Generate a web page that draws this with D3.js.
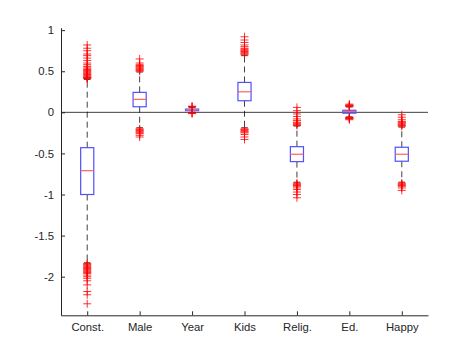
<!DOCTYPE html>
<html>
<head>
<meta charset="utf-8">
<script src="https://cdn.jsdelivr.net/npm/d3@7"></script>
<style>
  body { margin: 0; background: #fff; }
  text { font-family: "Liberation Sans", Arial, sans-serif; }
</style>
</head>
<body>
<script>
var categories = ["Const.", "Male", "Year", "Kids", "Relig.", "Ed.", "Happy"];

// box statistics
var q1 =        [-1.00, 0.068, 0.020, 0.141, -0.600, -0.010, -0.595];
var medians =   [-0.71, 0.158, 0.030, 0.250, -0.510,  0.010, -0.510];
var q3 =        [-0.43, 0.243, 0.040, 0.364, -0.418,  0.025, -0.425];
var whiskerLo = [-1.83, -0.187, 0.000, -0.187, -0.850, -0.055, -0.850];
var whiskerHi = [0.40, 0.49, 0.060, 0.69, -0.167, 0.065, -0.180];

var outliers = [
  [0.82, 0.78, 0.75, 0.71, 0.69, 0.66, 0.63, 0.60, 0.58, 0.56, 0.55, 0.53, 0.52, 0.51, 0.50, 0.49, 0.48, 0.47, 0.46, 0.45, 0.44, 0.43, 0.425, 0.42, 0.415, 0.41,
   -1.84, -1.85, -1.86, -1.87, -1.88, -1.89, -1.90, -1.91, -1.92, -1.93, -1.94, -1.95, -1.96, -1.98, -2.00, -2.02, -2.05, -2.10, -2.18, -2.22, -2.33],
  [0.65, 0.60, 0.58, 0.57, 0.56, 0.55, 0.54, 0.53, 0.52, 0.51, 0.50,
   -0.20, -0.21, -0.22, -0.23, -0.24, -0.25, -0.26, -0.28, -0.30],
  [0.065, 0.07, 0.075, -0.005, -0.01, -0.015],
  [0.92, 0.88, 0.85, 0.82, 0.80, 0.78, 0.77, 0.76, 0.75, 0.74, 0.73, 0.72, 0.71, 0.70,
   -0.20, -0.21, -0.22, -0.23, -0.24, -0.25, -0.27, -0.30, -0.33],
  [0.06, 0.02, -0.02, -0.05, -0.08, -0.10, -0.12, -0.13, -0.14, -0.15, -0.16,
   -0.86, -0.87, -0.88, -0.89, -0.90, -0.92, -0.94, -0.97, -1.00, -1.04],
  [0.07, 0.075, 0.08, 0.085, 0.09, 0.10, -0.06, -0.065, -0.07, -0.075, -0.08, -0.09],
  [-0.03, -0.06, -0.09, -0.11, -0.12, -0.13, -0.14, -0.15, -0.16, -0.17,
   -0.86, -0.87, -0.88, -0.89, -0.90, -0.92, -0.95]
];

var yTicks = [1, 0.5, 0, -0.5, -1, -1.5, -2];

var width = 473, height = 355;
var plotLeft = 61, plotRight = 428, plotTop = 27.7, plotBottom = 315.3;

var svg = d3.select("body").append("svg")
    .attr("width", width)
    .attr("height", height);

var x = d3.scaleLinear().domain([0.5, 7.5]).range([plotLeft, plotRight]);
var y = d3.scaleLinear().domain([-2.47, 1.03]).range([plotBottom, plotTop]);

var boxW = x(0.75) - x(0.5);
var capW = x(0.625) - x(0.5);

// zero line
svg.append("line")
    .attr("x1", plotLeft).attr("x2", plotRight)
    .attr("y1", y(0)).attr("y2", y(0))
    .attr("stroke", "#404040").attr("stroke-width", 1);

var yAxis = d3.axisLeft(y)
    .tickValues(yTicks)
    .tickFormat(function (d) { return String(d); })
    .tickSizeInner(-4).tickSizeOuter(0).tickPadding(7);

var xAxis = d3.axisBottom(x)
    .tickValues(d3.range(1, categories.length + 1))
    .tickFormat(function (d) { return categories[d - 1]; })
    .tickSizeInner(-4).tickSizeOuter(0).tickPadding(8);

var gy = svg.append("g").attr("transform", "translate(" + plotLeft + ",0)").call(yAxis);
var gx = svg.append("g").attr("transform", "translate(0," + plotBottom + ")").call(xAxis);

[gx, gy].forEach(function (g) {
    g.selectAll("path, line").attr("stroke", "#262626");
    g.selectAll("text").attr("fill", "#262626").attr("font-size", "11.3px")
        .attr("font-family", "'Liberation Sans', Arial, sans-serif");
});

var groups = svg.selectAll("g.box")
    .data(categories)
    .enter()
    .append("g")
    .attr("class", "box");

groups.each(function (d, i) {
    var g = d3.select(this);
    var cx = x(i + 1);
    // whiskers
    g.append("line")
        .attr("x1", cx).attr("x2", cx)
        .attr("y1", y(q3[i])).attr("y2", y(whiskerHi[i]))
        .attr("stroke", "#000").attr("stroke-dasharray", "6,4").attr("stroke-opacity", 0.75);
    g.append("line")
        .attr("x1", cx).attr("x2", cx)
        .attr("y1", y(q1[i])).attr("y2", y(whiskerLo[i]))
        .attr("stroke", "#000").attr("stroke-dasharray", "6,4").attr("stroke-opacity", 0.75);
    [whiskerHi[i], whiskerLo[i]].forEach(function (v) {
        g.append("line")
            .attr("x1", cx - capW / 2).attr("x2", cx + capW / 2)
            .attr("y1", y(v)).attr("y2", y(v))
            .attr("stroke", "#000").attr("stroke-opacity", 0.75);
    });
    g.append("rect")
        .attr("x", cx - boxW / 2)
        .attr("width", boxW)
        .attr("y", y(q3[i]))
        .attr("height", Math.max(y(q1[i]) - y(q3[i]), 0.5))
        .attr("fill", "none")
        .attr("stroke", "#5050ff")
        .attr("stroke-width", 1.2);
    g.append("line")
        .attr("x1", cx - boxW / 2).attr("x2", cx + boxW / 2)
        .attr("y1", y(medians[i])).attr("y2", y(medians[i]))
        .attr("stroke", "#ff6060").attr("stroke-width", 1.2);
    g.selectAll("path.out")
        .data(outliers[i])
        .enter()
        .append("path")
        .attr("class", "out")
        .attr("d", function (v) {
            var py = y(v);
            return "M" + (cx - 4) + "," + py + "H" + (cx + 4) +
                   "M" + cx + "," + (py - 4) + "V" + (py + 4);
        })
        .attr("stroke", "#ff0000")
        .attr("stroke-opacity", 0.8)
        .attr("fill", "none");
});
</script>
</body>
</html>
